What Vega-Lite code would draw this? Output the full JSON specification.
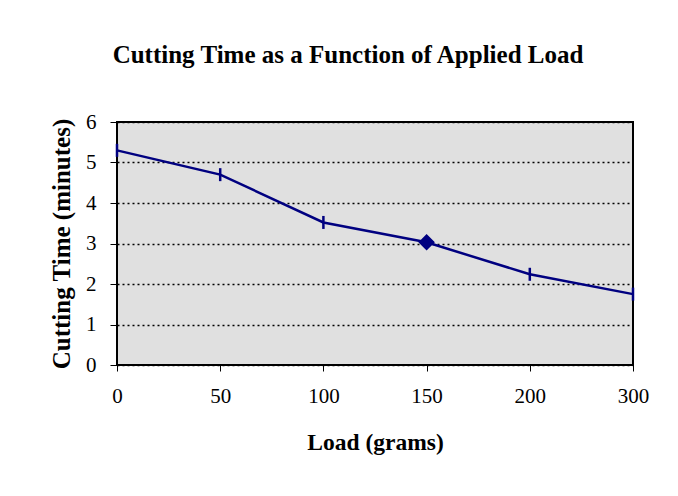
{
  "$schema": "https://vega.github.io/schema/vega-lite/v6.json",
  "width": 516,
  "height": 243,
  "autosize": {"type": "none"},
  "padding": {"left": 117, "top": 122, "right": 45, "bottom": 131},
  "background": "white",
  "config": {
    "font": "Liberation Serif",
    "view": {"fill": "#e0e0e0", "stroke": "black", "strokeWidth": 2}
  },
  "title": {
    "text": "Cutting Time as a Function of Applied Load",
    "font": "Liberation Serif",
    "fontSize": 25,
    "fontWeight": "bold",
    "color": "black",
    "anchor": "middle",
    "dx": -27,
    "offset": 43
  },
  "data": {
    "values": [
      {"load": 0, "time": 5.3, "marker": "tick"},
      {"load": 50, "time": 4.7, "marker": "tick"},
      {"load": 100, "time": 3.52, "marker": "tick"},
      {"load": 150, "time": 3.03, "marker": "diamond"},
      {"load": 200, "time": 2.24, "marker": "tick"},
      {"load": 300, "time": 1.75, "marker": "tick"}
    ]
  },
  "encoding": {
    "x": {
      "field": "load",
      "type": "ordinal",
      "scale": {"type": "point", "padding": 0},
      "axis": {
        "title": "Load (grams)",
        "labelAngle": 0,
        "labelFont": "Liberation Serif",
        "labelFontSize": 21,
        "labelColor": "black",
        "labelPadding": 14,
        "tickColor": "black",
        "tickSize": 6,
        "domain": false,
        "grid": false,
        "titleFont": "Liberation Serif",
        "titleFontSize": 23.5,
        "titleFontWeight": "bold",
        "titleColor": "black",
        "titlePadding": 24
      }
    },
    "y": {
      "field": "time",
      "type": "quantitative",
      "scale": {"domain": [0, 6], "nice": false},
      "axis": {
        "title": "Cutting Time (minutes)",
        "values": [0, 1, 2, 3, 4, 5, 6],
        "labelFont": "Liberation Serif",
        "labelFontSize": 21,
        "labelColor": "black",
        "labelPadding": 14,
        "tickColor": "black",
        "tickSize": 7,
        "domain": false,
        "grid": true,
        "gridColor": "black",
        "gridDash": [2, 3],
        "gridWidth": 1.5,
        "gridOpacity": 1,
        "titleFont": "Liberation Serif",
        "titleFontSize": 25,
        "titleFontWeight": "bold",
        "titleColor": "black",
        "titlePadding": 11
      }
    }
  },
  "layer": [
    {
      "mark": {"type": "line", "color": "#000080", "strokeWidth": 2.5}
    },
    {
      "mark": {"type": "point", "filled": true, "opacity": 1, "color": "#000080", "stroke": "#000080", "strokeWidth": 2.5, "size": 169},
      "encoding": {
        "shape": {
          "field": "marker",
          "type": "nominal",
          "scale": {"domain": ["tick", "diamond"], "range": ["M0,-1L0,1", "diamond"]},
          "legend": null
        }
      }
    }
  ]
}
